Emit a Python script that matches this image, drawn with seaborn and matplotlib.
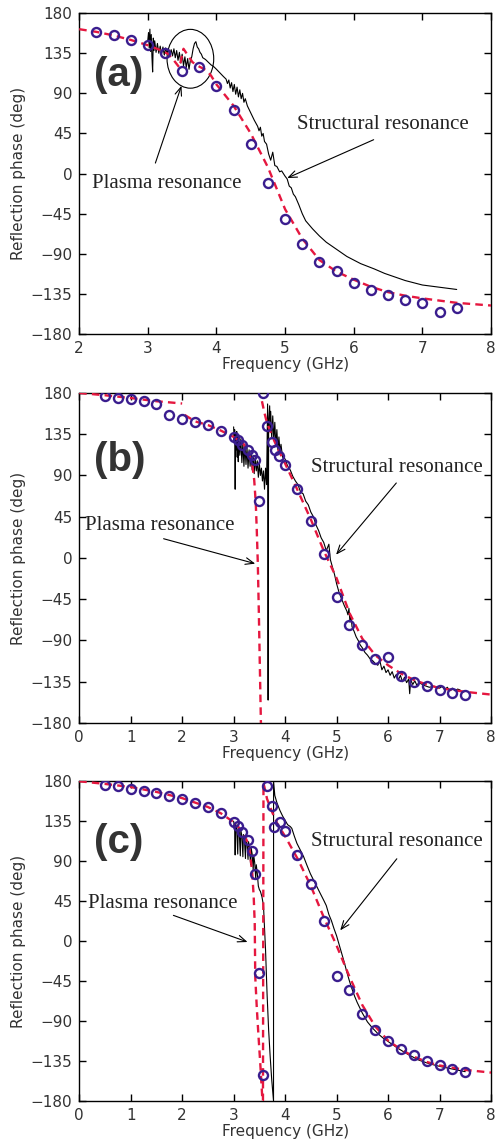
import matplotlib
matplotlib.use('Agg')
import matplotlib.pyplot as plt
import seaborn as sns
from matplotlib.patches import Ellipse

# ---- panel (a) ----
a_circ_x = [2.25, 2.5, 2.75, 3.0, 3.25, 3.5, 3.75, 4.0, 4.25, 4.5, 4.75, 5.0, 5.25, 5.5,
            5.75, 6.0, 6.25, 6.5, 6.75, 7.0, 7.25, 7.5]
a_circ_y = [158.7, 155, 150, 143.7, 135, 114.6, 119.4, 98.5, 70.8, 32.7, -11, -50.7, -79.4,
            -99.3, -109, -123.2, -131, -136.6, -141.5, -145.2, -155, -150.8]
a_fit_x = [2.0, 2.25, 2.5, 2.75, 3.0, 3.2, 3.3, 3.38, 3.46, 3.52, 3.58, 3.65, 3.75, 3.85, 3.92,
           4.0, 4.25, 4.5, 4.75, 5.0, 5.25, 5.5, 5.75, 6.0, 6.25, 6.5, 6.75, 7.0, 7.5, 8.0]
a_fit_y = [162, 159, 155, 150, 144, 138, 134, 127, 119, 140, 133, 125, 120, 116, 110,
           100, 76, 45, 7, -40, -73, -97, -110, -119, -127, -133, -137, -140, -145, -148]
a_meas_x = [3.00, 3.01, 3.02, 3.03, 3.04, 3.05, 3.06, 3.07, 3.08, 3.09, 3.10, 3.12, 3.14, 3.16,
            3.18, 3.20, 3.22, 3.24, 3.26, 3.28, 3.30, 3.32, 3.34, 3.36, 3.38, 3.40, 3.42, 3.44,
            3.46, 3.48, 3.50, 3.52, 3.54, 3.56, 3.58, 3.60, 3.62, 3.64, 3.66, 3.68, 3.70, 3.72,
            3.74, 3.76, 3.78, 3.80, 3.84, 3.88, 3.92, 3.96, 4.00, 4.05, 4.10, 4.14, 4.16, 4.18,
            4.20, 4.22, 4.24, 4.26, 4.28, 4.30, 4.32, 4.34, 4.36, 4.38, 4.40, 4.42, 4.45, 4.50,
            4.55, 4.60, 4.62, 4.64, 4.66, 4.68, 4.70, 4.73, 4.76, 4.79, 4.82, 4.85, 4.88, 4.92,
            4.95, 5.00, 5.03, 5.06, 5.09, 5.12, 5.15, 5.20, 5.25, 5.30, 5.40, 5.50, 5.60, 5.75,
            5.90, 6.00, 6.10, 6.20, 6.30, 6.45, 6.60, 6.75, 6.90, 7.00, 7.15, 7.30, 7.50]
a_meas_y = [150, 158, 141, 162, 137, 156, 131, 114, 152, 138, 149, 136, 146, 135,
            143, 134, 142, 133, 141, 134, 140, 133, 139, 132, 140, 130, 138, 127,
            136, 124, 134, 121, 131, 119, 129, 117, 127, 131, 140, 146, 148, 142,
            140, 136, 134, 130, 128, 125, 122, 120, 117, 113, 109, 106, 101, 105,
            96, 102, 92, 100, 89, 97, 86, 94, 84, 90, 80, 84, 76, 68,
            60, 53, 48, 52, 42, 45, 36, 33, 22, 15, 24, 9, 8, 2,
            3, -3, -6, -14, -16, -23, -26, -35, -45, -53, -62, -70, -77, -85,
            -93, -97, -101, -104, -107, -112, -116, -120, -123, -125, -126.5, -128, -130]

# ---- panel (b) ----
b_circ_x = [0.5, 0.75, 1.0, 1.25, 1.5, 1.75, 2.0, 2.25, 2.5, 2.75, 3.0, 3.08, 3.17, 3.27,
            3.35, 3.42, 3.5, 3.57, 3.65, 3.74, 3.81, 3.89, 3.99, 4.24, 4.5, 4.75, 5.0, 5.25,
            5.5, 5.75, 6.0, 6.25, 6.5, 6.75, 7.0, 7.25, 7.5]
b_circ_y = [176.7, 174.9, 173.1, 170.9, 168.4, 155.6, 152, 148.4, 144.7, 138.5, 132, 128.4,
            122.9, 117.5, 112, 107.3, 61.8, 180, 144, 126.5, 118.2, 110.9, 101.8, 74.9, 40,
            4, -42.9, -73.5, -95.3, -110.2, -108, -129.1, -135.3, -139.6, -143.6, -147.3, -149.8]
b_fit1_x = [0.0, 0.5, 1.0, 1.5, 2.0]
b_fit1_y = [180, 177.5, 174.5, 171, 168.5]
b_fit2_x = [2.05, 2.25, 2.5, 2.75, 3.0, 3.2, 3.3, 3.36, 3.40, 3.43, 3.45, 3.47, 3.49, 3.51, 3.53]
b_fit2_y = [156, 149, 145, 139, 132, 124, 112, 103, 85, 60, 30, -6, -60, -120, -180]
b_fit3_x = [3.55, 3.60, 3.65, 3.75, 3.85, 4.0, 4.25, 4.5, 4.75, 5.0, 5.25, 5.5, 5.75, 6.0,
            6.25, 6.5, 6.75, 7.0, 7.5, 8.0]
b_fit3_y = [171, 158, 147, 133, 120, 103, 73, 42, 8, -22, -60, -88, -106, -117,
            -126, -133, -138, -142, -146, -149]
b_meas_x = [3.00, 3.01, 3.02, 3.03, 3.04, 3.05, 3.06, 3.07, 3.08, 3.09, 3.10, 3.12, 3.14, 3.16,
            3.18, 3.20, 3.22, 3.24, 3.26, 3.28, 3.30, 3.32, 3.34, 3.36, 3.38, 3.40, 3.42, 3.44,
            3.46, 3.48, 3.50, 3.52, 3.54, 3.56, 3.58, 3.60, 3.62, 3.64, 3.66, 3.67, 3.68, 3.70,
            3.71, 3.72, 3.74, 3.76, 3.78, 3.80, 3.82, 3.84, 3.86, 3.88, 3.90, 3.92, 3.95, 4.00,
            4.05, 4.10, 4.15, 4.20, 4.25, 4.30, 4.35, 4.40, 4.45, 4.50, 4.55, 4.60, 4.65, 4.70,
            4.75, 4.80, 4.85, 4.88, 4.92, 4.96, 5.00, 5.05, 5.10, 5.15, 5.20, 5.22, 5.24, 5.26,
            5.28, 5.30, 5.34, 5.38, 5.42, 5.46, 5.50, 5.55, 5.60, 5.65, 5.70, 5.75, 5.80, 5.84,
            5.88, 5.92, 5.96, 6.00, 6.04, 6.08, 6.12, 6.16, 6.20, 6.24, 6.28, 6.32, 6.36, 6.40,
            6.42, 6.44, 6.48, 6.52, 6.56, 6.60, 6.70, 6.80, 6.90, 7.00, 7.05, 7.10, 7.15, 7.20,
            7.25, 7.30, 7.35, 7.40]
b_meas_y = [143, 128, 140, 75, 135, 118, 138, 110, 134, 105, 132, 112, 130, 104,
            126, 100, 124, 102, 120, 98, 118, 100, 115, 96, 112, 92, 110, 95,
            106, 88, 103, 90, 98, 84, 95, 75, 98, 80, 168, -155, 150, 166,
            140, 160, 130, 155, 128, 148, 122, 140, 118, 132, 115, 124, 110, 108,
            100, 96, 89, 84, 80, 72, 70, 62, 58, 50, 45, 36, 30, 22,
            17, 8, 15, -2, -10, -18, -28, -38, -45, -52, -58, -62, -55, -70,
            -63, -75, -80, -86, -90, -95, -98, -103, -106, -110, -112, -115, -117, -112,
            -122, -118, -125, -122, -128, -124, -131, -127, -133, -128, -135, -130, -136, -132,
            -148, -133, -138, -134, -139, -136, -139, -141, -140, -142, -140, -144, -141, -145,
            -142, -145, -143, -144]

# ---- panel (c) ----
c_circ_x = [0.5, 0.75, 1.0, 1.25, 1.5, 1.75, 2.0, 2.25, 2.5, 2.75, 3.0, 3.08, 3.17, 3.27,
            3.35, 3.42, 3.5, 3.57, 3.65, 3.74, 3.78, 3.9, 3.99, 4.24, 4.5, 4.75, 5.0, 5.25,
            5.5, 5.75, 6.0, 6.25, 6.5, 6.75, 7.0, 7.25, 7.5]
c_circ_y = [176.3, 174.4, 171.8, 169.1, 166.5, 163.5, 160.1, 156, 150.8, 144, 133.9, 129.8,
            123.4, 114, 101, 75.8, -35.8, -150.8, 175.1, 152.6, 129, 133.9, 123.8, 96.4, 63.9,
            23, -38.8, -55.3, -81.5, -99.5, -112.6, -122, -128.4, -135.1, -139.6, -143.7, -147.1]
c_fit_x = [0.0, 0.5, 1.0, 1.5, 2.0, 2.5, 2.75, 3.0, 3.1, 3.2, 3.3, 3.36, 3.39, 3.41, 3.42,
           3.45, 3.48, 3.52, 3.56, 3.57, 3.58, 3.65, 3.75, 3.85, 4.0, 4.25, 4.5, 4.75, 5.0,
           5.25, 5.5, 5.75, 6.0, 6.25, 6.5, 6.75, 7.0, 7.5, 8.0]
c_fit_y = [180, 177, 173.5, 168, 161, 151, 144, 134, 128, 120, 108, 78, 50, 20, -40,
           -75, -104, -140, -180, -180, 178, 160, 145, 132, 118, 92, 62, 27, -5,
           -40, -72, -96, -112, -122, -130, -136, -140, -145, -148]
c_meas_x = [3.00, 3.02, 3.03, 3.04, 3.06, 3.08, 3.09, 3.11, 3.13, 3.14, 3.16, 3.18, 3.19, 3.21,
            3.23, 3.24, 3.26, 3.28, 3.29, 3.31, 3.33, 3.34, 3.36, 3.38, 3.39, 3.41, 3.43, 3.44,
            3.46, 3.48, 3.50, 3.52, 3.55, 3.58, 3.60, 3.62, 3.65, 3.68, 3.71, 3.74, 3.775, 3.776,
            3.80, 3.84, 3.90, 3.95, 4.00, 4.05, 4.10, 4.13, 4.18, 4.23, 4.30, 4.36, 4.42, 4.49,
            4.55, 4.62, 4.68, 4.75, 4.80, 4.85, 4.90, 4.95, 5.00, 5.05, 5.10, 5.15, 5.20, 5.25,
            5.30, 5.35, 5.40, 5.50, 5.60, 5.70, 5.80, 5.90, 6.00, 6.20, 6.40, 6.60, 6.80, 7.00,
            7.25, 7.50]
c_meas_y = [135, 128, 97, 132, 126, 98, 130, 122, 96, 125, 118, 95, 120, 114,
            93, 116, 110, 92, 112, 104, 86, 105, 98, 80, 97, 88, 70, 86,
            76, 62, 58, 56, 50, 40, 15, -10, -60, -100, -130, -156, -180, 180,
            164, 156, 147, 141, 136, 131, 129, 127, 118, 110, 102, 95, 86, 76,
            69, 61, 54, 46, 40, 30, 23, 14, 6, -4, -14, -24, -35, -45,
            -54, -62, -69, -81, -91, -98, -104, -109, -113, -121, -128, -134, -138, -141,
            -144, -147]

y_ticks = [-180, -135, -90, -45, 0, 45, 90, 135, 180]

circ_color = '#3a1d8e'
fit_color = '#e5173f'
txt_color = '#222222'

sns.set_theme(style='ticks')
plt.rcParams['font.family'] = ['DejaVu Sans']
plt.rcParams.update({
    'axes.edgecolor': 'black', 'axes.linewidth': 1.0,
    'xtick.direction': 'in', 'ytick.direction': 'in',
    'xtick.top': True, 'xtick.bottom': True, 'ytick.left': True, 'ytick.right': True,
    'xtick.major.size': 5, 'ytick.major.size': 5,
    'xtick.major.width': 1.0, 'ytick.major.width': 1.0,
    'xtick.color': 'black', 'ytick.color': 'black',
})

fig = plt.figure(figsize=(4.98, 11.42), dpi=100)
ax_a = fig.add_axes([0.159, 0.7075, 0.827, 0.281])
ax_b = fig.add_axes([0.159, 0.3669, 0.827, 0.289])
ax_c = fig.add_axes([0.159, 0.0359, 0.827, 0.280])


def dashed(ax, x, y):
    sns.lineplot(x=x, y=y, ax=ax, color=fit_color, lw=1.7, sort=False, estimator=None,
                 linestyle=(0, (3.2, 2.2)), zorder=3)


def setup(ax, xlo, letter, ypos):
    ax.set_xlim(xlo, 8)
    ax.set_ylim(-180, 180)
    ax.set_yticks(y_ticks)
    ax.set_xticks(range(xlo, 9))
    ax.tick_params(which='major', direction='in', bottom=True, left=True, top=True,
                   right=True, length=5, width=1.0, color='black',
                   labelsize=11, labelcolor='#333333', pad=5)
    for s in ax.spines.values():
        s.set_visible(True)
        s.set_color('black')
    ax.set_xlabel('Frequency (GHz)', fontsize=11, color='#333333', labelpad=1)
    ax.set_ylabel('Reflection phase (deg)', fontsize=11, color='#333333', labelpad=3)
    ax.text(0.035, ypos, letter, transform=ax.transAxes, ha='left', va='center',
            fontsize=29, fontweight='bold', family='Liberation Sans', color='#333333')


def note(ax, text, tpos, tail, head):
    ax.text(tpos[0], tpos[1], text, family='Liberation Serif', fontsize=15,
            color=txt_color, va='center', ha='left')
    ax.annotate('', xy=head, xytext=tail,
                arrowprops=dict(arrowstyle='->,head_length=0.5,head_width=0.2',
                                lw=0.8, color='black', shrinkA=0, shrinkB=0))


def circles(ax, x, y):
    sns.lineplot(x=x, y=y, ax=ax, marker='o', linestyle='none', markersize=6.5,
                 markerfacecolor='none', markeredgecolor=circ_color, markeredgewidth=1.7,
                 sort=False, estimator=None, zorder=4)


# (a)
sns.lineplot(x=a_meas_x, y=a_meas_y, ax=ax_a, color='black', lw=0.8, sort=False, estimator=None)
dashed(ax_a, a_fit_x, a_fit_y)
circles(ax_a, a_circ_x, a_circ_y)
ax_a.add_patch(Ellipse((3.62, 128.8), 0.68, 66, fill=False, lw=0.8, ec='black'))
setup(ax_a, 2, '(a)', 0.808)
note(ax_a, 'Plasma resonance', (2.18, -10.6), (3.11, 11.8), (3.49, 98.5))
note(ax_a, 'Structural resonance', (5.18, 54.8), (6.29, 38), (5.03, -5))

# (b)
sns.lineplot(x=b_meas_x, y=b_meas_y, ax=ax_b, color='black', lw=0.8, sort=False, estimator=None)
dashed(ax_b, b_fit1_x, b_fit1_y)
dashed(ax_b, b_fit2_x, b_fit2_y)
dashed(ax_b, b_fit3_x, b_fit3_y)
circles(ax_b, b_circ_x, b_circ_y)
setup(ax_b, 0, '(b)', 0.796)
note(ax_b, 'Plasma resonance', (0.12, 35.6), (1.64, 21), (3.42, -6.2))
note(ax_b, 'Structural resonance', (4.5, 98.5), (6.16, 81.8), (4.99, 3.6))

# (c)
sns.lineplot(x=c_meas_x, y=c_meas_y, ax=ax_c, color='black', lw=0.8, sort=False, estimator=None)
dashed(ax_c, c_fit_x, c_fit_y)
circles(ax_c, c_circ_x, c_circ_y)
setup(ax_c, 0, '(c)', 0.81)
note(ax_c, 'Plasma resonance', (0.18, 42.9), (1.83, 29), (3.27, -1))
note(ax_c, 'Structural resonance', (4.5, 112.6), (6.17, 92.7), (5.07, 12.1))

fig.savefig('out.png', dpi=100)
